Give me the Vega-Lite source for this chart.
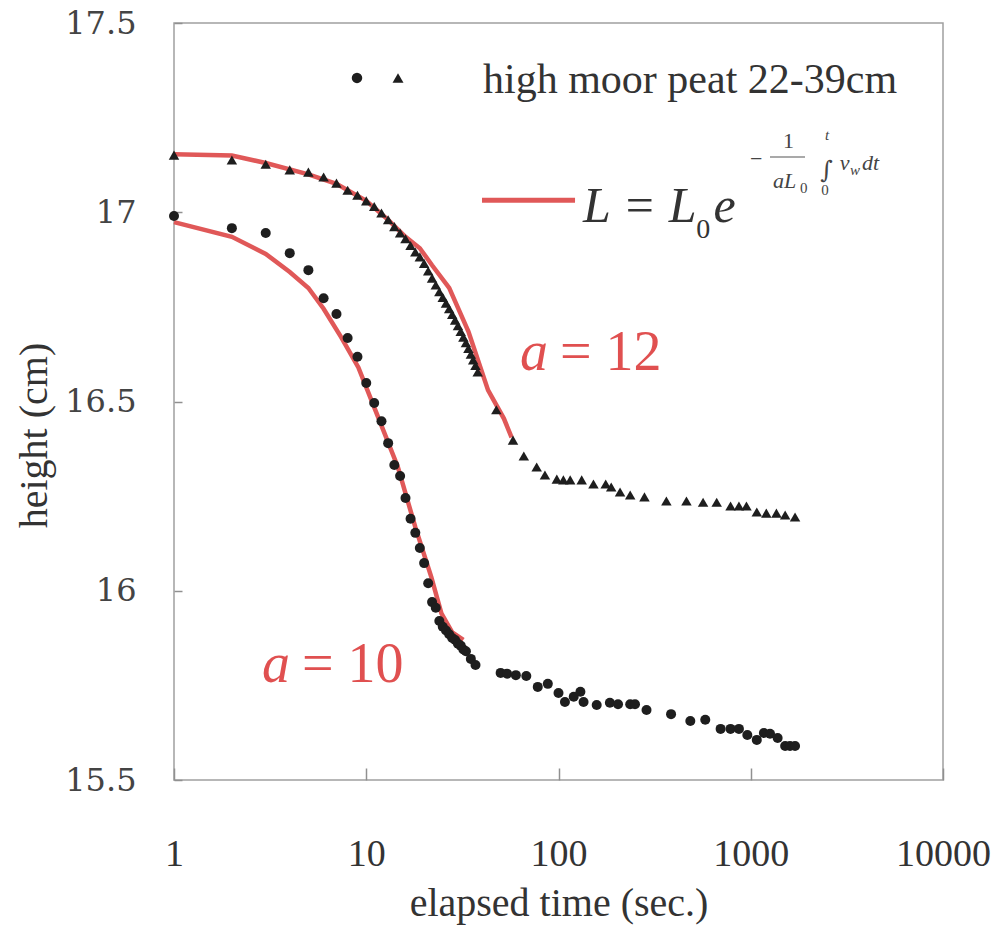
{
  "$schema": "https://vega.github.io/schema/vega-lite/v6.json",
  "width": 769,
  "height": 757,
  "autosize": {"type": "none"},
  "padding": {"left": 174, "top": 23, "right": 57, "bottom": 146},
  "background": "white",
  "config": {
    "view": {"stroke": "#a0a0a0", "strokeWidth": 1.5},
    "axis": {"domain": false, "grid": false, "tickColor": "#909090", "tickWidth": 1.5},
    "font": "Liberation Serif"
  },
  "datasets": {
    "one": [{}],
    "circles": [
      {"t": 1, "h": 16.99}, {"t": 2, "h": 16.958}, {"t": 3, "h": 16.945}, {"t": 4, "h": 16.892},
      {"t": 5, "h": 16.847}, {"t": 6, "h": 16.773}, {"t": 7, "h": 16.731}, {"t": 8, "h": 16.668},
      {"t": 9, "h": 16.618}, {"t": 10, "h": 16.549}, {"t": 11, "h": 16.496}, {"t": 12, "h": 16.448},
      {"t": 13, "h": 16.39}, {"t": 14, "h": 16.332}, {"t": 15, "h": 16.303}, {"t": 16, "h": 16.245},
      {"t": 17, "h": 16.19}, {"t": 18, "h": 16.153}, {"t": 19, "h": 16.113}, {"t": 20, "h": 16.073},
      {"t": 21, "h": 16.02}, {"t": 22, "h": 15.97}, {"t": 23, "h": 15.955}, {"t": 24, "h": 15.92},
      {"t": 25, "h": 15.905}, {"t": 26, "h": 15.895}, {"t": 27, "h": 15.885}, {"t": 28, "h": 15.875},
      {"t": 29, "h": 15.87}, {"t": 30, "h": 15.86}, {"t": 31, "h": 15.855}, {"t": 32, "h": 15.845},
      {"t": 33, "h": 15.84}, {"t": 35, "h": 15.82}, {"t": 37, "h": 15.804}, {"t": 50, "h": 15.783},
      {"t": 54, "h": 15.781}, {"t": 60, "h": 15.777}, {"t": 68, "h": 15.775}, {"t": 78, "h": 15.746},
      {"t": 88, "h": 15.754}, {"t": 100, "h": 15.73}, {"t": 108, "h": 15.706}, {"t": 120, "h": 15.72},
      {"t": 130, "h": 15.733}, {"t": 135, "h": 15.706}, {"t": 158, "h": 15.698}, {"t": 185, "h": 15.704},
      {"t": 204, "h": 15.7}, {"t": 236, "h": 15.7}, {"t": 250, "h": 15.7}, {"t": 287, "h": 15.685},
      {"t": 385, "h": 15.674}, {"t": 485, "h": 15.656}, {"t": 580, "h": 15.659}, {"t": 697, "h": 15.635},
      {"t": 785, "h": 15.635}, {"t": 868, "h": 15.635}, {"t": 960, "h": 15.619}, {"t": 1075, "h": 15.606},
      {"t": 1170, "h": 15.624}, {"t": 1260, "h": 15.622}, {"t": 1380, "h": 15.611}, {"t": 1510, "h": 15.59},
      {"t": 1600, "h": 15.59}, {"t": 1700, "h": 15.59}
    ],
    "triangles": [
      {"t": 1, "h": 17.151}, {"t": 2, "h": 17.138}, {"t": 3, "h": 17.127}, {"t": 4, "h": 17.112},
      {"t": 5, "h": 17.106}, {"t": 6, "h": 17.093}, {"t": 7, "h": 17.077}, {"t": 8, "h": 17.058},
      {"t": 9, "h": 17.045}, {"t": 10, "h": 17.03}, {"t": 11, "h": 17.015}, {"t": 12, "h": 16.998},
      {"t": 13, "h": 16.98}, {"t": 14, "h": 16.962}, {"t": 15, "h": 16.945}, {"t": 16, "h": 16.93},
      {"t": 17, "h": 16.912}, {"t": 18, "h": 16.895}, {"t": 19, "h": 16.882}, {"t": 20, "h": 16.865},
      {"t": 21, "h": 16.845}, {"t": 22, "h": 16.826}, {"t": 23, "h": 16.808}, {"t": 24, "h": 16.79},
      {"t": 25, "h": 16.775}, {"t": 26, "h": 16.76}, {"t": 27, "h": 16.745}, {"t": 28, "h": 16.73},
      {"t": 29, "h": 16.715}, {"t": 30, "h": 16.7}, {"t": 31, "h": 16.685}, {"t": 32, "h": 16.67},
      {"t": 33, "h": 16.655}, {"t": 34, "h": 16.64}, {"t": 35, "h": 16.625}, {"t": 36, "h": 16.61},
      {"t": 37, "h": 16.595}, {"t": 38, "h": 16.578}, {"t": 47.5, "h": 16.478}, {"t": 58, "h": 16.398},
      {"t": 66, "h": 16.356}, {"t": 77, "h": 16.327}, {"t": 85, "h": 16.306}, {"t": 98, "h": 16.295},
      {"t": 106, "h": 16.293}, {"t": 115, "h": 16.293}, {"t": 132, "h": 16.293}, {"t": 152, "h": 16.282},
      {"t": 176, "h": 16.282}, {"t": 188, "h": 16.274}, {"t": 209, "h": 16.261}, {"t": 236, "h": 16.253},
      {"t": 280, "h": 16.248}, {"t": 364, "h": 16.237}, {"t": 463, "h": 16.237}, {"t": 565, "h": 16.234},
      {"t": 665, "h": 16.234}, {"t": 785, "h": 16.224}, {"t": 868, "h": 16.224}, {"t": 950, "h": 16.224},
      {"t": 1075, "h": 16.208}, {"t": 1205, "h": 16.205}, {"t": 1360, "h": 16.205}, {"t": 1510, "h": 16.2},
      {"t": 1700, "h": 16.195}
    ],
    "fit12": [
      {"t": 1, "h": 17.153}, {"t": 2, "h": 17.15}, {"t": 3, "h": 17.13}, {"t": 5, "h": 17.1},
      {"t": 7, "h": 17.075}, {"t": 10, "h": 17.03}, {"t": 13, "h": 16.98}, {"t": 16, "h": 16.935},
      {"t": 19, "h": 16.905}, {"t": 22, "h": 16.86}, {"t": 27, "h": 16.8}, {"t": 34, "h": 16.685},
      {"t": 43, "h": 16.53}, {"t": 52, "h": 16.455}, {"t": 57, "h": 16.405}
    ],
    "fit10": [
      {"t": 1, "h": 16.974}, {"t": 2, "h": 16.935}, {"t": 3, "h": 16.89}, {"t": 4, "h": 16.842},
      {"t": 5, "h": 16.8}, {"t": 6, "h": 16.745}, {"t": 7.4, "h": 16.67}, {"t": 9.1, "h": 16.59},
      {"t": 11.5, "h": 16.46}, {"t": 14.6, "h": 16.327}, {"t": 18, "h": 16.168}, {"t": 21.8, "h": 16.036},
      {"t": 24.6, "h": 15.94}, {"t": 28, "h": 15.89}, {"t": 32, "h": 15.87}
    ]
  },
  "layer": [
    {
      "data": {"name": "fit12"},
      "mark": {"type": "line", "color": "#e05858", "strokeWidth": 4.5},
      "encoding": {
        "x": {"field": "t", "type": "quantitative", "scale": {"type": "log", "domain": [1, 10000], "nice": false},
          "title": "elapsed time (sec.)",
          "axis": {"values": [1, 10, 100, 1000, 10000], "format": "d", "tickSize": -12, "labelPadding": 97,
            "labelBaseline": "alphabetic", "labelFont": "Liberation Serif", "labelFontSize": 38, "labelColor": "#333",
            "labelFlush": false, "labelOverlap": false,
            "titleFont": "Liberation Serif", "titleFontSize": 40, "titleFontWeight": "normal", "titleColor": "#333",
            "titleBaseline": "alphabetic", "titleY": 135}},
        "y": {"field": "h", "type": "quantitative", "scale": {"domain": [15.5, 17.5], "zero": false, "nice": false},
          "title": "height (cm)",
          "axis": {"values": [15.5, 16, 16.5, 17, 17.5], "format": "~g", "tickSize": -8, "labelPadding": 46,
            "labelFont": "DejaVu Serif", "labelFontSize": 32, "labelColor": "#444", "labelFlush": false, "labelOverlap": false,
            "titleFont": "Liberation Serif", "titleFontSize": 40, "titleFontWeight": "normal", "titleColor": "#333",
            "titleX": -120, "titleY": 412}}
      }
    },
    {
      "data": {"name": "fit10"},
      "mark": {"type": "line", "color": "#e05858", "strokeWidth": 4.5},
      "encoding": {
        "x": {"field": "t", "type": "quantitative"},
        "y": {"field": "h", "type": "quantitative"}
      }
    },
    {
      "data": {"name": "circles"},
      "mark": {"type": "point", "shape": "circle", "filled": true, "color": "#1e1e1e", "size": 100, "opacity": 1},
      "encoding": {
        "x": {"field": "t", "type": "quantitative"},
        "y": {"field": "h", "type": "quantitative"}
      }
    },
    {
      "data": {"name": "triangles"},
      "mark": {"type": "point", "shape": "triangle-up", "filled": true, "color": "#1e1e1e", "size": 110, "opacity": 1},
      "encoding": {
        "x": {"field": "t", "type": "quantitative"},
        "y": {"field": "h", "type": "quantitative"}
      }
    },
    {
      "data": {"name": "one"},
      "layer": [
        {
          "mark": {"type": "point", "shape": "circle", "filled": true, "color": "#1e1e1e", "size": 110, "opacity": 1},
          "encoding": {"x": {"datum": 8.95, "type": "quantitative"}, "y": {"datum": 17.355, "type": "quantitative"}}
        },
        {
          "mark": {"type": "point", "shape": "triangle-up", "filled": true, "color": "#1e1e1e", "size": 120, "opacity": 1},
          "encoding": {"x": {"datum": 14.63, "type": "quantitative"}, "y": {"datum": 17.355, "type": "quantitative"}}
        },
        {
          "mark": {"type": "text", "text": "high moor peat 22-39cm", "font": "Liberation Serif", "fontSize": 42, "color": "#333", "align": "left", "baseline": "alphabetic"},
          "encoding": {"x": {"datum": 40.5, "type": "quantitative"}, "y": {"datum": 17.315, "type": "quantitative"}}
        },
        {
          "mark": {"type": "rule", "color": "#e05858", "strokeWidth": 5},
          "encoding": {"x": {"datum": 40.0, "type": "quantitative"}, "x2": {"datum": 121.9}, "y": {"datum": 17.032, "type": "quantitative"}}
        },
        {
          "mark": {"type": "text", "text": "L = L", "font": "Liberation Serif", "fontStyle": "italic", "fontSize": 50, "color": "#333", "align": "left", "baseline": "alphabetic"},
          "encoding": {"x": {"datum": 134.1, "type": "quantitative"}, "y": {"datum": 16.974, "type": "quantitative"}}
        },
        {
          "mark": {"type": "text", "text": "0", "font": "Liberation Serif", "fontSize": 28, "color": "#333", "align": "left", "baseline": "alphabetic"},
          "encoding": {"x": {"datum": 520, "type": "quantitative"}, "y": {"datum": 16.932, "type": "quantitative"}}
        },
        {
          "mark": {"type": "text", "text": "e", "font": "Liberation Serif", "fontStyle": "italic", "fontSize": 50, "color": "#333", "align": "left", "baseline": "alphabetic"},
          "encoding": {"x": {"datum": 640, "type": "quantitative"}, "y": {"datum": 16.974, "type": "quantitative"}}
        },
        {
          "mark": {"type": "text", "text": "−", "font": "Liberation Serif", "fontSize": 22, "color": "#444", "align": "left", "baseline": "alphabetic"},
          "encoding": {"x": {"datum": 991, "type": "quantitative"}, "y": {"datum": 17.122, "type": "quantitative"}}
        },
        {
          "mark": {"type": "text", "text": "1", "font": "Liberation Serif", "fontSize": 22, "color": "#444", "align": "left", "baseline": "alphabetic"},
          "encoding": {"x": {"datum": 1472, "type": "quantitative"}, "y": {"datum": 17.17, "type": "quantitative"}}
        },
        {
          "mark": {"type": "rule", "color": "#555", "strokeWidth": 1.2},
          "encoding": {"x": {"datum": 1259, "type": "quantitative"}, "x2": {"datum": 1916}, "y": {"datum": 17.146, "type": "quantitative"}}
        },
        {
          "mark": {"type": "text", "text": "aL", "font": "Liberation Serif", "fontStyle": "italic", "fontSize": 22, "color": "#444", "align": "left", "baseline": "alphabetic"},
          "encoding": {"x": {"datum": 1305, "type": "quantitative"}, "y": {"datum": 17.064, "type": "quantitative"}}
        },
        {
          "mark": {"type": "text", "text": "0", "font": "Liberation Serif", "fontSize": 15, "color": "#444", "align": "left", "baseline": "alphabetic"},
          "encoding": {"x": {"datum": 1804, "type": "quantitative"}, "y": {"datum": 17.051, "type": "quantitative"}}
        },
        {
          "mark": {"type": "text", "text": "∫", "font": "DejaVu Serif", "fontSize": 24, "color": "#444", "align": "left", "baseline": "alphabetic"},
          "encoding": {"x": {"datum": 2300, "type": "quantitative"}, "y": {"datum": 17.09, "type": "quantitative"}}
        },
        {
          "mark": {"type": "text", "text": "t", "font": "Liberation Serif", "fontStyle": "italic", "fontSize": 15, "color": "#444", "align": "left", "baseline": "alphabetic"},
          "encoding": {"x": {"datum": 2433, "type": "quantitative"}, "y": {"datum": 17.191, "type": "quantitative"}}
        },
        {
          "mark": {"type": "text", "text": "0", "font": "Liberation Serif", "fontSize": 15, "color": "#444", "align": "left", "baseline": "alphabetic"},
          "encoding": {"x": {"datum": 2330, "type": "quantitative"}, "y": {"datum": 17.045, "type": "quantitative"}}
        },
        {
          "mark": {"type": "text", "text": "v", "font": "Liberation Serif", "fontStyle": "italic", "fontSize": 22, "color": "#444", "align": "left", "baseline": "alphabetic"},
          "encoding": {"x": {"datum": 2900, "type": "quantitative"}, "y": {"datum": 17.112, "type": "quantitative"}}
        },
        {
          "mark": {"type": "text", "text": "w", "font": "Liberation Serif", "fontStyle": "italic", "fontSize": 15, "color": "#444", "align": "left", "baseline": "alphabetic"},
          "encoding": {"x": {"datum": 3283, "type": "quantitative"}, "y": {"datum": 17.098, "type": "quantitative"}}
        },
        {
          "mark": {"type": "text", "text": "dt", "font": "Liberation Serif", "fontStyle": "italic", "fontSize": 22, "color": "#444", "align": "left", "baseline": "alphabetic"},
          "encoding": {"x": {"datum": 3793, "type": "quantitative"}, "y": {"datum": 17.112, "type": "quantitative"}}
        },
        {
          "mark": {"type": "text", "text": "a", "font": "Liberation Serif", "fontStyle": "italic", "fontSize": 56, "color": "#e05050", "align": "left", "baseline": "alphabetic"},
          "encoding": {"x": {"datum": 63.0, "type": "quantitative"}, "y": {"datum": 16.583, "type": "quantitative"}}
        },
        {
          "mark": {"type": "text", "text": "= 12", "font": "Liberation Serif", "fontSize": 56, "color": "#e05050", "align": "left", "baseline": "alphabetic"},
          "encoding": {"x": {"datum": 101.8, "type": "quantitative"}, "y": {"datum": 16.583, "type": "quantitative"}}
        },
        {
          "mark": {"type": "text", "text": "a", "font": "Liberation Serif", "fontStyle": "italic", "fontSize": 56, "color": "#e05050", "align": "left", "baseline": "alphabetic"},
          "encoding": {"x": {"datum": 2.87, "type": "quantitative"}, "y": {"datum": 15.759, "type": "quantitative"}}
        },
        {
          "mark": {"type": "text", "text": "= 10", "font": "Liberation Serif", "fontSize": 56, "color": "#e05050", "align": "left", "baseline": "alphabetic"},
          "encoding": {"x": {"datum": 4.63, "type": "quantitative"}, "y": {"datum": 15.759, "type": "quantitative"}}
        }
      ]
    }
  ]
}
